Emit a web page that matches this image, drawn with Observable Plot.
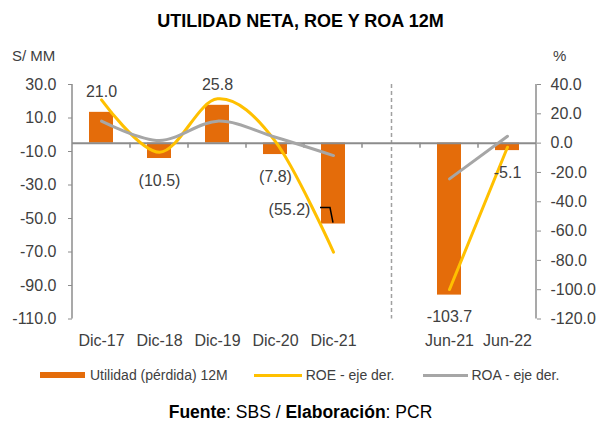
<!DOCTYPE html>
<html>
<head>
<meta charset="utf-8">
<script src="https://cdn.jsdelivr.net/npm/d3@7"></script>
<script src="https://cdn.jsdelivr.net/npm/@observablehq/plot@0.6"></script>
<style>
  html, body { margin: 0; padding: 0; background: #fff; }
  #wrap { position: relative; width: 601px; height: 421px; overflow: hidden;
          font-family: "Liberation Sans", Arial, sans-serif; color: #404040; }
  #chart { position: absolute; left: 0; top: 0; }
  .abs { position: absolute; white-space: nowrap; line-height: 1; }
  #title { left: 0; width: 601px; text-align: center; top: 12px; font-size: 18px; font-weight: bold; color: #000; }
  #ylab { left: 12px; top: 48px; font-size: 15px; }
  #y2lab { left: 553px; top: 48px; font-size: 15px; }
  #legend { left: 40px; top: 368px; display: flex; align-items: center; font-size: 14px; }
  #legend .sw { display: inline-block; margin-right: 5px; }
  #legend .item { display: flex; align-items: center; }
  #footer { left: 0; width: 601px; text-align: center; top: 404px; font-size: 17.5px; color: #000; }
</style>
</head>
<body>
<div id="wrap">
  <div id="chart"></div>
  <div id="title" class="abs">UTILIDAD NETA, ROE Y ROA 12M</div>
  <div id="ylab" class="abs">S/ MM</div>
  <div id="y2lab" class="abs">%</div>
  <div id="legend" class="abs"></div>
  <div id="footer" class="abs"><b>Fuente</b>: SBS / <b>Elaboración</b>: PCR</div>
</div>
<script>
// ---- data ----
const categories = ["Dic-17", "Dic-18", "Dic-19", "Dic-20", "Dic-21", " ", "Jun-21", "Jun-22"];
const utilidad   = [21.0, -10.5, 25.8, -7.8, -55.2, null, -103.7, -5.1];
const utilLabels = ["21.0", "(10.5)", "25.8", "(7.8)", "(55.2)", "", "-103.7", "-5.1"];
const roe        = [29.5, -6.2, 30.2, 1.0, -74.4, null, -99.9, -2.8];
const roa        = [15.0, 1.8, 15.0, 4.0, -8.5, null, -24.4, 4.7];
const segment    = ["Dic", "Dic", "Dic", "Dic", "Dic", null, "Jun", "Jun"];
const leftTicks  = [30, 10, -10, -30, -50, -70, -90, -110];   // S/ MM
const rightTicks = [40, 20, 0, -20, -40, -60, -80, -100, -120]; // %
const movedLabelCat = "Dic-21";

const seriesNames  = ["Utilidad (pérdida) 12M", "ROE - eje der.", "ROA - eje der."];
const seriesColors = ["#E46C0A", "#FFC000", "#A6A6A6"];

// ---- build tables ----
const table = categories.map((c, i) => ({cat: c, util: utilidad[i], label: utilLabels[i], roe: roe[i], roa: roa[i], seg: segment[i]}));
const bars = table.filter(d => d.util != null);
const lines = table.filter(d => d.roe != null);
const posLabels = bars.filter(d => d.util >= 0 && d.cat !== movedLabelCat);
const negLabels = bars.filter(d => d.util < 0 && d.cat !== movedLabelCat);
const movedLabels = bars.filter(d => d.cat === movedLabelCat);

// left axis (-110..30) shares the pixel extent of the right axis (-120..40)
const [lMin, lMax] = [d3.min(leftTicks), d3.max(leftTicks)];
const [rMin, rMax] = [d3.min(rightTicks), d3.max(rightTicks)];
const leftToRight = v => rMin + (v - lMin) * (rMax - rMin) / (lMax - lMin);
const rightToLeft = v => lMin + (v - rMin) * (lMax - lMin) / (rMax - rMin);

const axisGray = "#8C8C8C";
const textCol = "#404040";

function frameLines(index, scales, values, dims) {
  const g = d3.create("svg:g").attr("fill", "none").attr("stroke", axisGray);
  const x0 = dims.marginLeft, x1 = dims.width - dims.marginRight;
  const y0 = dims.marginTop, y1 = dims.height - dims.marginBottom;
  g.append("line").attr("x1", x0).attr("x2", x0).attr("y1", y0).attr("y2", y1).attr("stroke-width", 1.5);
  g.append("line").attr("x1", x1).attr("x2", x1).attr("y1", y0).attr("y2", y1).attr("stroke-width", 1.5);
  const bw = scales.x.bandwidth ? scales.x.bandwidth() : 0;
  const yz = scales.y(0);
  for (let i = 1; i < categories.length; i++) {
    const xb = (scales.x(categories[i - 1]) + scales.x(categories[i])) / 2 + bw / 2;
    g.append("line").attr("x1", xb).attr("x2", xb).attr("y1", yz).attr("y2", yz + 5).attr("stroke-width", 1.5);
  }
  return g.node();
}

function leader(index, scales, values, dims) {
  const bw = scales.x.bandwidth ? scales.x.bandwidth() : 0;
  const g = d3.create("svg:g");
  for (const d of movedLabels) {
    const cx = scales.x(d.cat) + bw / 2, y = scales.y(d.util);
    g.append("path").attr("d", `M${cx - 13},${y - 16}H${cx - 3}L${cx},${y - 1}`)
      .attr("fill", "none").attr("stroke", "#000").attr("stroke-width", 1.5);
  }
  return g.node();
}

const chart = Plot.plot({
  width: 601,
  height: 360,
  marginTop: 84,
  marginBottom: 41.5,
  marginLeft: 72,
  marginRight: 65,
  style: {fontFamily: "'Liberation Sans', Arial, sans-serif", fontSize: "16px", color: textCol, background: "transparent"},
  x: {domain: categories, paddingInner: 0.59, paddingOuter: 0.295, label: null},
  y: {domain: [rMin, rMax], label: null},
  marks: [
    Plot.barY(bars, {x: "cat", y: "util", fill: seriesColors[0]}),
    Plot.ruleX([" "], {x: d => d, stroke: "#A0A0A0", strokeWidth: 1.5, strokeDasharray: "4,3"}),
    Plot.ruleY([0], {stroke: axisGray, strokeWidth: 2}),
    frameLines,
    Plot.line(lines, {x: "cat", y: "roe", z: "seg", stroke: seriesColors[1], strokeWidth: 3, curve: "cardinal"}),
    Plot.line(lines, {x: "cat", y: "roa", z: "seg", stroke: seriesColors[2], strokeWidth: 3, curve: "cardinal"}),
    Plot.text(posLabels, {x: "cat", y: "util", text: "label", dy: -20, fill: textCol, fontSize: 16}),
    Plot.text(negLabels, {x: "cat", y: "util", text: "label", dy: 22, fill: textCol, fontSize: 16}),
    Plot.text(movedLabels, {x: "cat", y: "util", text: "label", dx: -44, dy: -14, fill: textCol, fontSize: 16}),
    leader,
    Plot.axisY(leftTicks.map(leftToRight), {anchor: "left", label: null, tickSize: 4, tickPadding: 12, stroke: axisGray, fill: textCol, fontSize: 16,
      tickFormat: v => rightToLeft(v).toFixed(1)}),
    Plot.axisY(rightTicks, {anchor: "right", label: null, tickSize: 4, tickPadding: 10, stroke: axisGray, fill: textCol, fontSize: 16,
      tickFormat: v => v.toFixed(1)}),
    Plot.axisX({anchor: "bottom", label: null, tickSize: 0, tickPadding: 16, fill: textCol, fontSize: 16})
  ]
});
document.getElementById("chart").appendChild(chart);

// legend
const legend = document.getElementById("legend");
const swatchSpec = [{w: 45, h: 6, gap: 5, after: 26}, {w: 48, h: 3, gap: 4, after: 29}, {w: 45, h: 3, gap: 3, after: 0}];
seriesNames.forEach((name, i) => {
  const item = document.createElement("span");
  item.className = "item";
  item.style.marginRight = swatchSpec[i].after + "px";
  const sw = document.createElement("span");
  sw.className = "sw";
  sw.style.width = swatchSpec[i].w + "px";
  sw.style.height = swatchSpec[i].h + "px";
  sw.style.background = seriesColors[i];
  sw.style.marginRight = swatchSpec[i].gap + "px";
  const t = document.createElement("span");
  t.textContent = name;
  item.appendChild(sw);
  item.appendChild(t);
  legend.appendChild(item);
});
</script>
</body>
</html>
